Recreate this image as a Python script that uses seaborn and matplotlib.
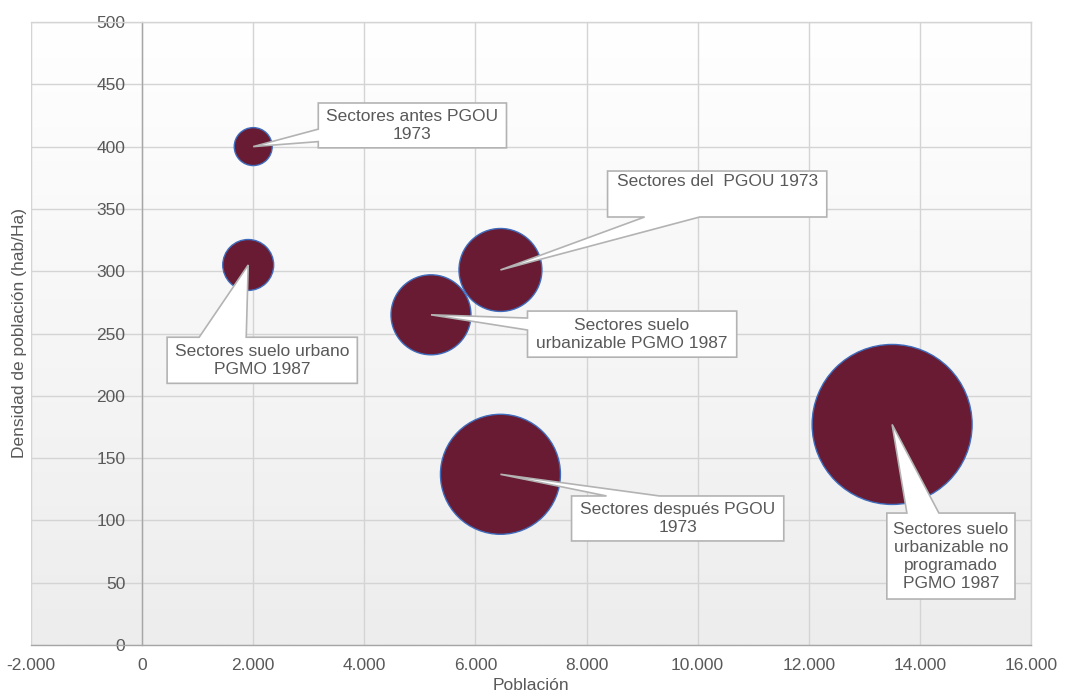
import numpy as np
import pandas as pd
import matplotlib
matplotlib.use("Agg")
import matplotlib.pyplot as plt
import seaborn as sns
from matplotlib.patches import Polygon
from matplotlib.ticker import FuncFormatter

# Data: population, density (hab/Ha) and bubble size (approx. surface, Ha)
sectores = ["Sectores antes PGOU\n1973",
            "Sectores suelo urbano\nPGMO 1987",
            "Sectores del  PGOU 1973",
            "Sectores suelo\nurbanizable PGMO 1987",
            "Sectores después PGOU\n1973",
            "Sectores suelo\nurbanizable no\nprogramado\nPGMO 1987"]
poblacion = [2000, 1910, 6450, 5200, 6450, 13500]
densidad = [400, 305, 301, 265, 137, 177]
superficie = [4.5, 8.1, 21.5, 20.0, 45.0, 80.0]

x_ticks = [-2000, 0, 2000, 4000, 6000, 8000, 10000, 12000, 14000, 16000]
y_ticks = [0, 50, 100, 150, 200, 250, 300, 350, 400, 450, 500]

# Callout boxes (x0, x1, y0, y1), side of the pointer and pointer base along that side
callouts = [
    dict(box=(3171, 6559, 399, 435), side="left", base=(404, 414)),
    dict(box=(450, 3874, 210, 247), side="top", base=(1027, 1874)),
    dict(box=(8378, 12324, 343.5, 380.4), side="bottom", base=(9045, 10036), va="top"),
    dict(box=(6937, 10703, 231, 268), side="left", base=(252.8, 262.4)),
    dict(box=(7730, 11550, 83.5, 119.6), side="top", base=(8360, 9315)),
    dict(box=(13405, 15712, 36.9, 105.9), side="top", base=(13766, 14342)),
]

df = pd.DataFrame({"Sector": sectores, "Poblacion": poblacion,
                   "Densidad": densidad, "Superficie": superficie})

sns.set_style("white")
plt.rcParams["font.family"] = ["Liberation Sans", "DejaVu Sans"]

text_color = "#595959"
grid_color = "#d4d4d4"


def callout_outline(box, side, base, tip):
    """Builds the outline of a rectangle callout with a wedge pointing at tip."""
    x0, x1, y0, y1 = box
    b0, b1 = base
    if side == "top":
        return [(x0, y1), (b0, y1), tip, (b1, y1), (x1, y1), (x1, y0), (x0, y0)]
    if side == "bottom":
        return [(x0, y1), (x1, y1), (x1, y0), (b1, y0), tip, (b0, y0), (x0, y0)]
    # left side
    return [(x0, y1), (x1, y1), (x1, y0), (x0, y0), (x0, b0), tip, (x0, b1)]


fig = plt.figure(figsize=(10.67, 6.97), dpi=100)
ax = fig.add_axes([31 / 1067, 1 - 645 / 697, 1000 / 1067, 623 / 697])
ax.set_xlim(-2000, 16000)
ax.set_ylim(0, 500)

# Soft vertical gradient in the plot area
grad = np.linspace(1, 0, 256).reshape(-1, 1)
ax.imshow(grad, extent=(0, 1, 0, 1), transform=ax.transAxes, aspect="auto",
          cmap=matplotlib.colors.LinearSegmentedColormap.from_list("bg", ["#ecedec", "#ffffff"]),
          zorder=0)

# Bubbles
sns.scatterplot(data=df, x="Poblacion", y="Densidad", size="Superficie",
                sizes=(0, 13270), size_norm=(0, 80), legend=False,
                color="#681b32", edgecolor="#3f6cbd", linewidth=1.0,
                alpha=1, ax=ax, zorder=3)

# Callouts
for i, c in enumerate(callouts):
    tip = (poblacion[i], densidad[i])
    pts = callout_outline(c["box"], c["side"], c["base"], tip)
    ax.add_patch(Polygon(pts, closed=True, facecolor="white", edgecolor="#b3b3b3",
                         linewidth=1.2, zorder=4))
    x0, x1, y0, y1 = c["box"]
    if c.get("va") == "top":
        ax.text((x0 + x1) / 2, y1 - 2, sectores[i], ha="center", va="top",
                fontsize=12.5, color=text_color, zorder=5, linespacing=1.25)
    else:
        ax.text((x0 + x1) / 2, (y0 + y1) / 2, sectores[i], ha="center", va="center",
                fontsize=12.5, color=text_color, zorder=5, linespacing=1.25)

# Grid and axes
ax.set_xticks(x_ticks)
ax.set_yticks(y_ticks)
ax.grid(True, color=grid_color, linewidth=1.0, zorder=1)
ax.set_axisbelow(True)
ax.spines["left"].set_position(("data", 0))
ax.spines["left"].set_color("#a6a6a6")
ax.spines["bottom"].set_color("#a6a6a6")
ax.spines["top"].set_color(grid_color)
ax.spines["right"].set_color(grid_color)
for s in ax.spines.values():
    s.set_visible(True)
    s.set_linewidth(1.0)
ax.axvline(-2000, color=grid_color, linewidth=1.5, zorder=1)

fmt = FuncFormatter(lambda v, p: f"{int(v):,}".replace(",", "."))
ax.xaxis.set_major_formatter(fmt)
ax.tick_params(axis="both", length=0, labelsize=12.5, labelcolor=text_color)
ax.tick_params(axis="x", pad=9)
ax.tick_params(axis="y", pad=12)

ax.set_xlabel("Población", fontsize=12.5, color=text_color, labelpad=4)
ax.set_ylabel("Densidad de población (hab/Ha)", fontsize=12.5, color=text_color)
ax.yaxis.set_label_coords(-0.004, 0.5)

fig.savefig("out.png", dpi=100)
